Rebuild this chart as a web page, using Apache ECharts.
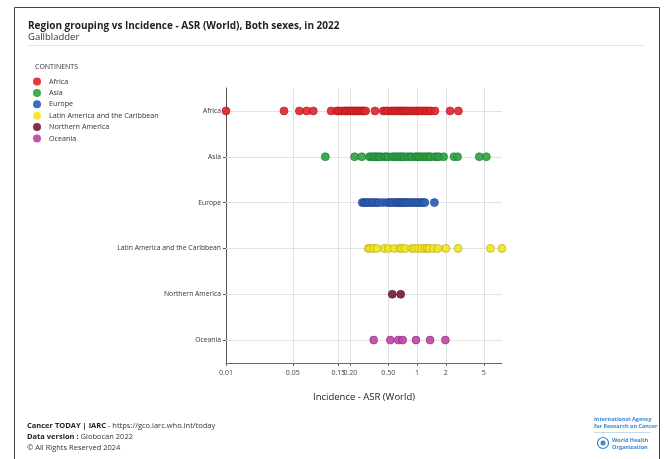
<!DOCTYPE html>
<html>
<head>
<meta charset="utf-8">
<script src="https://cdn.jsdelivr.net/npm/echarts@6/dist/echarts.min.js"></script>
<style>
  html, body { margin: 0; padding: 0; background: #fff; }
  #chart { width: 664px; height: 459px; }
</style>
</head>
<body>
<div id="chart"></div>
<script>
// Region groupings (top to bottom) and their legend colours
const regions = ['Africa', 'Asia', 'Europe', 'Latin America and the Caribbean', 'Northern America', 'Oceania'];
const regionColors = ['#e3262c', '#2fa443', '#2e5fb6', '#f3e51f', '#7a1c3c', '#c147a8'];
const regionBorders = ['#9e1418', '#1c6d2b', '#1b3c7c', '#a89b10', '#4a0f23', '#84296f'];

// Incidence ASR (World) per country, gallbladder, both sexes, 2022
const africa = [0.01, 0.0405, 0.0586, 0.070, 0.082, 0.126, 0.144, 0.152, 0.163, 0.172, 0.179, 0.186,
  0.194, 0.202, 0.210, 0.219, 0.228, 0.237, 0.247, 0.257, 0.267, 0.278, 0.290, 0.363, 0.443, 0.468,
  0.493, 0.535, 0.560, 0.589, 0.618, 0.648, 0.672, 0.701, 0.730, 0.762, 0.800, 0.845, 0.890, 0.937,
  0.985, 1.03, 1.08, 1.136, 1.20, 1.26, 1.33, 1.40, 1.54, 2.22, 2.71];
const asia = [0.1096, 0.222, 0.264, 0.317, 0.333, 0.349, 0.366, 0.384, 0.402, 0.420, 0.455, 0.475,
  0.500, 0.547, 0.578, 0.603, 0.640, 0.675, 0.705, 0.736, 0.791, 0.840, 0.880, 0.953, 1.00, 1.04,
  1.10, 1.164, 1.22, 1.28, 1.34, 1.40, 1.54, 1.62, 1.71, 1.90, 2.44, 2.66, 4.49, 5.32];
const europe = [0.267, 0.280, 0.290, 0.305, 0.322, 0.340, 0.357, 0.380, 0.400, 0.440, 0.482, 0.510,
  0.535, 0.560, 0.598, 0.620, 0.640, 0.664, 0.690, 0.715, 0.736, 0.770, 0.800, 0.845, 0.893, 0.940,
  0.993, 1.05, 1.10, 1.16, 1.21, 1.52];
const latinAmerica = [0.309, 0.320, 0.349, 0.379, 0.455, 0.500, 0.578, 0.660, 0.691, 0.749, 0.880,
  0.937, 1.03, 1.12, 1.21, 1.28, 1.34, 1.48, 1.65, 2.00, 2.69, 5.88, 7.76];
const northernAmerica = [0.551, 0.675];
const oceania = [0.352, 0.525, 0.637, 0.708, 0.976, 1.37, 1.98];

const regionValues = [africa, asia, europe, latinAmerica, northernAmerica, oceania];

// Logarithmic x axis: tick values and their labels
const tickValues = [0.01, 0.05, 0.15, 0.2, 0.5, 1, 2, 5];
const tickLabels = ['0.01', '0.05', '0.15', '0.20', '0.50', '1', '2', '5'];
const xMin = 0.01;
const xMax = 7.76;

const FONT = '"Open Sans", "Noto Sans", sans-serif';
const log = v => Math.log10(v);

const chart = echarts.init(document.getElementById('chart'), null, { renderer: 'canvas' });

const scatterSeries = regions.map((name, i) => ({
  name: name,
  type: 'scatter',
  z: 3,
  symbol: 'circle',
  symbolSize: 8,
  itemStyle: {
    color: regionColors[i],
    borderColor: regionBorders[i],
    borderWidth: 0.6,
    opacity: 0.92
  },
  emphasis: { disabled: true },
  data: regionValues[i].map(v => [log(v), name])
}));

// Horizontal guide line through each region row
const rowLines = {
  name: 'rows',
  type: 'scatter',
  data: [],
  silent: true,
  markLine: {
    z: 1,
    silent: true,
    symbol: 'none',
    label: { show: false },
    lineStyle: { color: '#e2e2e2', type: 'solid', width: 1 },
    data: regions.map(r => ({ yAxis: r }))
  }
};

const option = {
  backgroundColor: '#ffffff',
  animation: false,
  textStyle: { fontFamily: FONT },
  title: {
    left: 23,
    top: 16.5,
    text: 'Region grouping vs Incidence - ASR (World), Both sexes, in 2022',
    subtext: 'Gallbladder',
    itemGap: 1,
    textStyle: { fontFamily: FONT, fontSize: 10, fontWeight: 'bold', color: '#222' },
    subtextStyle: { fontFamily: FONT, fontSize: 9.5, color: '#333' }
  },
  legend: {
    orient: 'vertical',
    left: 33,
    top: 77.5,
    padding: 0,
    icon: 'circle',
    itemWidth: 8,
    itemHeight: 8,
    itemGap: 3.4,
    data: regions,
    itemStyle: { borderWidth: 0 },
    textStyle: { fontFamily: FONT, fontSize: 7.2, color: '#333', padding: [0, 0, 0, 3] }
  },
  grid: { left: 226, right: 162, top: 88, bottom: 96, containLabel: false },
  xAxis: {
    type: 'value',
    min: log(xMin),
    max: log(xMax),
    name: 'Incidence - ASR (World)',
    nameLocation: 'middle',
    nameGap: 29,
    nameTextStyle: { fontFamily: FONT, fontSize: 9.5, color: '#222', fontWeight: 500 },
    axisLine: { show: true, lineStyle: { color: '#666', width: 1 } },
    axisTick: { show: true, length: 3, customValues: tickValues.map(log), lineStyle: { color: '#666' } },
    axisLabel: {
      customValues: tickValues.map(log),
      fontFamily: FONT,
      fontSize: 7,
      color: '#444',
      margin: 6,
      formatter: v => {
        let best = 0;
        tickValues.forEach((t, i) => {
          if (Math.abs(log(t) - v) < Math.abs(log(tickValues[best]) - v)) best = i;
        });
        return tickLabels[best];
      }
    },
    splitLine: { show: true, lineStyle: { color: '#e2e2e2', width: 1 } }
  },
  yAxis: {
    type: 'category',
    inverse: true,
    data: regions,
    axisLine: { show: true, onZero: false, lineStyle: { color: '#555', width: 1 } },
    axisTick: { show: true, length: 3, alignWithLabel: true, lineStyle: { color: '#555' } },
    axisLabel: { fontFamily: FONT, fontSize: 6.8, color: '#333', margin: 5 },
    splitLine: { show: false }
  },
  series: [rowLines].concat(scatterSeries),
  graphic: [
    // page frame
    { type: 'rect', silent: true, z: 0,
      shape: { x: 14.5, y: 7.5, width: 645, height: 470 },
      style: { fill: 'none', stroke: '#444', lineWidth: 1 } },
    // rule under the title block
    { type: 'line', silent: true,
      shape: { x1: 27, y1: 45.5, x2: 645, y2: 45.5 },
      style: { stroke: '#e4e4e4', lineWidth: 1 } },
    { type: 'text', left: 35, top: 63, silent: true,
      style: { text: 'CONTINENTS', fontFamily: FONT, fontSize: 7, fill: '#333' } },
    // footer
    { type: 'text', left: 27, top: 420, silent: true,
      style: {
        text: '{b|Cancer TODAY | IARC} - https://gco.iarc.who.int/today\n{b|Data version :} Globocan 2022\n© All Rights Reserved 2024',
        fontFamily: FONT, fontSize: 7.5, fill: '#333', lineHeight: 11,
        rich: { b: { fontFamily: FONT, fontSize: 7.5, fontWeight: 'bold', fill: '#222' } }
      } },
    // IARC / WHO mark
    { type: 'text', left: 594, top: 416, silent: true,
      style: { text: 'International Agency\nfor Research on Cancer', fontFamily: FONT, fontSize: 5.5,
        fontWeight: 'bold', fill: '#3a87cc', lineHeight: 7 } },
    { type: 'line', silent: true,
      shape: { x1: 594, y1: 432.5, x2: 651, y2: 432.5 },
      style: { stroke: '#9cc4e6', lineWidth: 0.6 } },
    { type: 'circle', silent: true,
      shape: { cx: 603, cy: 443, r: 5.5 },
      style: { fill: 'none', stroke: '#3a87cc', lineWidth: 1.2 } },
    { type: 'circle', silent: true,
      shape: { cx: 603, cy: 443, r: 2.5 },
      style: { fill: '#3a87cc' } },
    { type: 'text', left: 612, top: 437, silent: true,
      style: { text: 'World Health\nOrganization', fontFamily: FONT, fontSize: 5.5,
        fontWeight: 'bold', fill: '#3a87cc', lineHeight: 7 } }
  ]
};

chart.setOption(option);
</script>
</body>
</html>
